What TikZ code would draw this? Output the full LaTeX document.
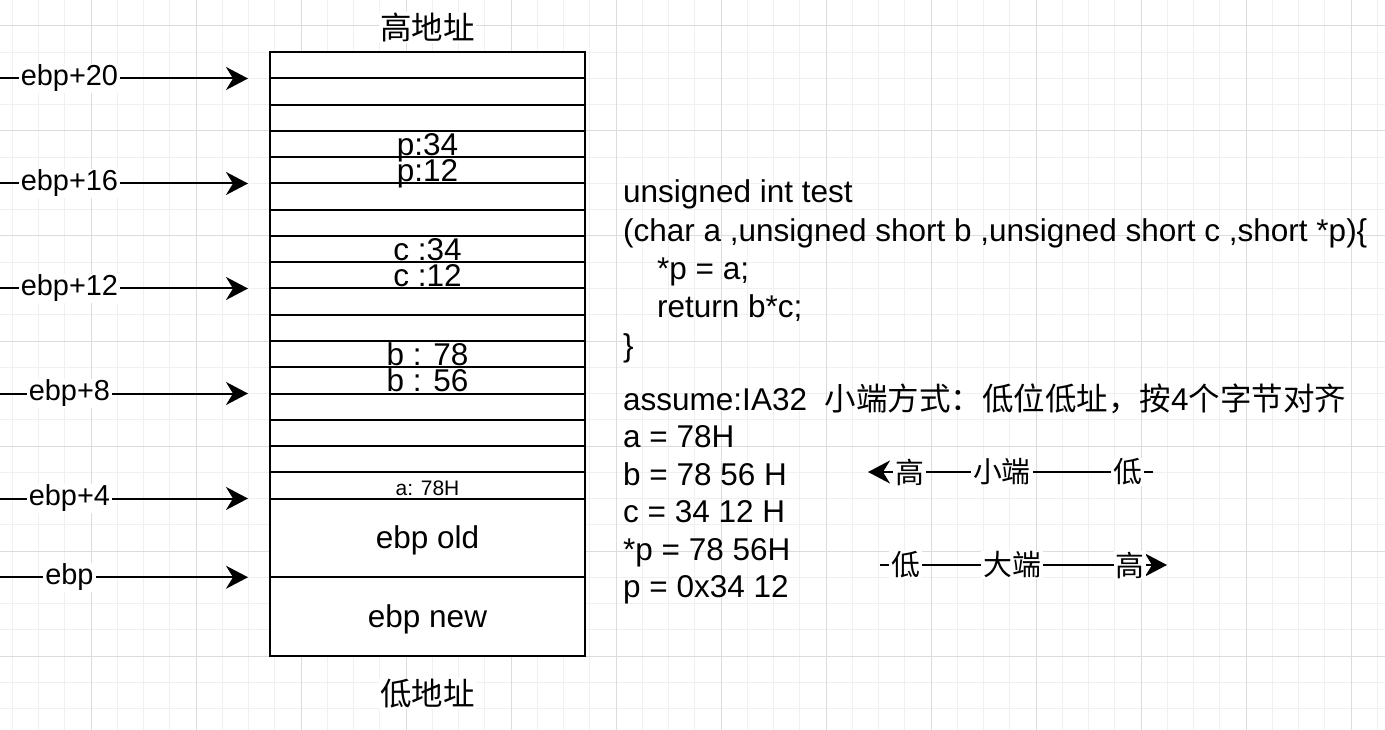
\documentclass[tikz,border=0pt]{standalone}
\usepackage{fontspec}
\setmainfont{Liberation Sans}
\newfontfamily\cjk{Noto Sans CJK SC}
\usepackage{tikz}
\usetikzlibrary{
  arrows.meta,
  calc,
  positioning}
\definecolor{gridminor}{HTML}{F0F0F0}
\definecolor{gridmajor}{HTML}{DCDCDC}

\begin{document}
\begin{tikzpicture}[x=1pt,y=-1pt,
    cell/.style={draw,line width=2pt,fill=white,minimum width=315pt,minimum height=26.25pt,inner sep=0pt,outer sep=0pt},
    val/.style={font=\fontsize{31.5}{37.8}\selectfont,inner sep=0pt,anchor=base},
    ptr/.style={line width=2pt,-{Stealth[length=22pt,width=23pt,inset=7pt]}},
    tag/.style={fill=white,inner xsep=2pt,inner ysep=1pt,font=\fontsize{28.9}{34.7}\selectfont},
    code/.style={font=\fontsize{31.5}{37.8}\selectfont,inner sep=0pt,anchor=base west}]
        \useasboundingbox (0,0) rectangle (1385,730);
        \fill[white] (0,0) rectangle (1385,730);

        % grid
        \foreach \i in {0,...,52} {
            \draw[gridminor,line width=1pt] ({12.25+26.25*\i},0)--({12.25+26.25*\i},730);
        }
        \foreach \j in {1,...,27} {
            \draw[gridminor,line width=1pt] (0,{26.25*\j-0.25})--(1385,{26.25*\j-0.25});
        }
        \foreach \i in {0,...,12} {
            \draw[gridmajor,line width=1pt] ({91+105*\i},0)--({91+105*\i},730);
        }
        \foreach \j in {0,...,6} {
            \draw[gridmajor,line width=1pt] (0,{26+105*\j})--(1385,{26+105*\j});
        }

        % stack
        \node[val,fill=white,inner sep=1pt] (hi) at (427.5,40) {\cjk 高地址};
        \foreach \i in {1,...,17} {
            \node[cell] (r\i) at (427.5,{52.25+26.25*(\i-0.5)}) {};
        }
        \node[cell,minimum height=78.75pt,below=0pt of r17] (old) {};
        \node[cell,minimum height=78.75pt,below=0pt of old] (new) {};
        \node[val,fill=white,inner sep=1pt] (lo) at (427.5,705) {\cjk 低地址};

        \foreach \txt/\row in {p:34/r4,p:12/r5,c :34/r8,c :12/r9,b : 78/r12,b : 56/r13} {
            \node[val] (v\row) at ([yshift=2pt]\row.south) {\txt};
        }
        \node[val,font=\fontsize{21}{25}\selectfont] (va) at ([yshift=3pt]r17.south) {a: 78H};
        \node[val] (vold) at ([yshift=-10.5pt]old.center) {ebp old};
        \node[val] (vnew) at ([yshift=-10.5pt]new.center) {ebp new};

        % pointers
        \coordinate (edge) at (0,0);
        \foreach \txt/\row in {ebp+20/r1,ebp+16/r5,ebp+12/r9,ebp+8/r13,ebp+4/r17,ebp/old} {
            \draw[ptr] (\row.south west -| edge)--([xshift=-22pt]\row.south west) node[tag,pos=0.28] (t\row) {\txt};
        }

        % code
        \foreach \txt [count=\k from 0] in {unsigned int test,{(char a ,unsigned short b ,unsigned short c ,short *p)\{},\hspace*{34pt}*p = a;,\hspace*{34pt}return b*c;,\}} {
            \node[code] (src\k) at (623,{203+38.3*\k}) {\txt};
        }
        \foreach \txt [count=\k from 0] in {{assume:IA32\ \ {\cjk 小端方式：低位低址，按}4{\cjk 个字节对齐}},a = 78H,b = 78 56 H,c = 34 12 H,*p = 78 56H,p = 0x34 12} {
            \node[code] (note\k) at (623,{410+37.5*\k}) {\txt};
        }

        % byte order
        \coordinate (ls) at (1153,472);
        \coordinate (le) at (868,472);
        \draw[ptr] (ls)--(le)
            node[tag,pos=0.088] (lsLo) {\cjk 低}
            node[tag,pos=0.53] (lsMid) {\cjk 小端}
            node[tag,pos=0.853] (lsHi) {\cjk 高};
        \coordinate (bs) at (880,565);
        \coordinate (be) at (1167,565);
        \draw[ptr] (bs)--(be)
            node[tag,pos=0.09] (bsLo) {\cjk 低}
            node[tag,pos=0.46] (bsMid) {\cjk 大端}
            node[tag,pos=0.871] (bsHi) {\cjk 高};
    \end{tikzpicture}
\end{document}
